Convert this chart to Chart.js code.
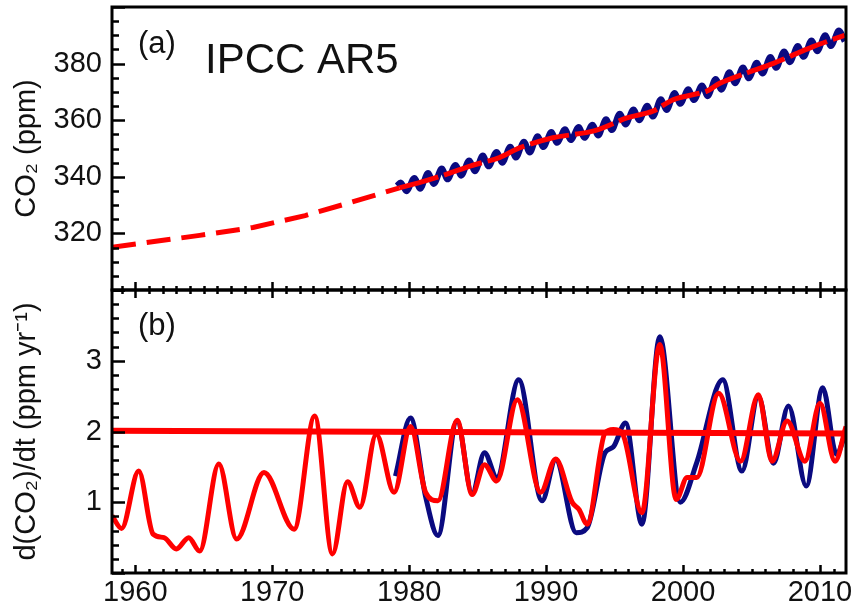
<!DOCTYPE html>
<html>
<head>
<meta charset="utf-8">
<script src="https://cdn.jsdelivr.net/npm/chart.js@4"></script>
<style>
  body { margin: 0; background: #fff; }
  #wrap { position: relative; width: 854px; height: 608px; }
  canvas { position: absolute; left: 0; }
  #topChart { top: 0; }
  #botChart { top: 280px; }
</style>
</head>
<body>
<div id="wrap">
  <canvas id="topChart" width="854" height="292"></canvas>
  <canvas id="botChart" width="854" height="328"></canvas>
</div>
<script>
// ---- dados ----
// painel (a): CO2 (ppm)
const co2DashYears  = [1958.3, 1964.7, 1968.6, 1972.4, 1975.7, 1979.3];
const co2DashValues = [315.1, 319.3, 322.1, 326.3, 330.9, 336.1];

const co2TrendYears  = [1979.3, 1980.8, 1982.8, 1984.5, 1986.6, 1988.1, 1990.5, 1993.5, 1995.9,
                        1997.8, 1999.3, 2001.7, 2002.7, 2004.6, 2006.6, 2009.5, 2011.8];
const co2TrendValues = [336.1, 338.0, 341.0, 343.9, 346.8, 350.3, 353.8, 356.2, 360.8,
                        363.2, 367.3, 370.2, 373.1, 376.6, 380.1, 386.0, 390.0];

// Mauna Loa mensal: máximo (maio) e mínimo (outubro) de cada ano
const mloYears = [1979,1980,1981,1982,1983,1984,1985,1986,1987,1988,1989,1990,1991,1992,1993,1994,
                  1995,1996,1997,1998,1999,2000,2001,2002,2003,2004,2005,2006,2007,2008,2009,2010,2011];
const mloMay = [338.0,339.6,341.3,342.9,344.2,345.8,347.5,348.8,350.6,352.4,354.3,355.8,356.8,357.6,358.4,360.3,
                362.3,363.8,365.1,367.4,369.6,370.9,372.3,374.6,376.9,378.6,380.3,382.3,384.3,386.2,388.2,390.0,391.7];
const mloOct = [334.9,335.8,337.5,339.1,340.4,342.0,343.7,345.0,346.8,348.6,350.5,352.0,353.0,353.8,354.6,356.5,
                358.5,360.0,361.3,363.6,365.8,367.1,368.5,370.8,373.1,374.8,376.5,378.5,380.5,382.4,384.4,386.2,387.9];
const mloStart = { x: 1979.1, y: 336.8 };

// painel (b): d(CO2)/dt (ppm/ano)
const rateRedYears  = [1958.3,1959.0,1960.25,1961.3,1962.1,1963.0,1963.9,1964.7,1966.1,1967.4,1969.4,1971.6,
                       1973.1,1974.4,1975.5,1976.4,1977.6,1978.9,1980.1,1981.2,1982.1,1983.5,1984.6,1985.5,
                       1986.4,1987.9,1989.6,1990.7,1991.9,1992.4,1993.0,1994.3,1994.9,1995.6,1997.0,1998.3,
                       1999.5,2000.3,2001.0,2002.6,2004.2,2005.5,2006.5,2007.6,2008.9,2010.0,2011.1,2011.9];
const rateRedValues = [0.81,0.63,1.44,0.55,0.50,0.34,0.50,0.31,1.54,0.48,1.42,0.62,
                       2.22,0.27,1.29,0.93,1.96,1.14,2.07,1.14,1.02,2.16,1.11,1.53,
                       1.30,2.45,1.14,1.61,1.00,0.90,0.69,1.98,2.03,1.96,0.85,3.23,
                       1.04,1.35,1.35,2.54,1.58,2.52,1.58,2.15,1.58,2.40,1.58,2.07];

const rateBlueYears  = [1979.0,1980.1,1981.2,1982.1,1983.5,1984.6,1985.5,1986.4,1988.0,1989.7,1990.7,1992.2,
                        1993.0,1994.3,1994.9,1995.8,1997.0,1998.3,1999.8,2001.0,2002.9,2004.3,2005.5,2006.6,
                        2007.7,2009.0,2010.2,2011.2,2011.9];
const rateBlueValues = [1.37,2.19,1.08,0.53,2.15,1.13,1.70,1.35,2.73,1.02,1.60,0.57,
                        0.64,1.70,1.78,2.12,0.69,3.34,1.00,1.56,2.73,1.44,2.50,1.55,
                        2.36,1.23,2.62,1.68,2.00];

const meanRateYears  = [1958.3, 2011.9];
const meanRateValues = [2.01, 1.97];

const xTicks  = [1960, 1970, 1980, 1990, 2000, 2010];
const yTicksA = [320, 340, 360, 380];
const yTicksB = [1, 2, 3];

// ---- helpers ----
const pts = (xs, ys) => xs.map((x, i) => ({ x, y: ys[i] }));
const mloPoints = [mloStart];
mloYears.forEach((yr, i) => {
  mloPoints.push({ x: yr + 0.38, y: mloMay[i] });
  mloPoints.push({ x: yr + 0.80, y: mloOct[i] });
});

const FONT = "'Liberation Sans', Arial, sans-serif";
const RED = '#ff0000';
const NAVY = '#0a0a80';
const INK = '#111';
const X_MIN = 1958.3, X_MAX = 2011.9;

// moldura + ticks para dentro
const framePlugin = {
  id: 'frame',
  afterDraw(chart, args, o) {
    const { ctx, chartArea: a, scales } = chart;
    ctx.save();
    ctx.strokeStyle = '#000';
    ctx.lineWidth = 3;
    ctx.strokeRect(a.left, a.top, a.right - a.left, a.bottom - a.top);

    ctx.lineWidth = 2.5;
    ctx.beginPath();
    const y = scales.y;
    for (let v = o.yMin; v <= o.yMax + 1e-9; v += o.yMinor) {
      const p = Math.round(y.getPixelForValue(v)) + 0.5;
      const major = Math.abs(v / o.yMajor - Math.round(v / o.yMajor)) < 1e-6;
      ctx.moveTo(a.left, p);
      ctx.lineTo(a.left + (major ? 13 : 7), p);
    }
    const x = scales.x;
    for (let yr = 1959; yr <= 2011; yr++) {
      const p = Math.round(x.getPixelForValue(yr)) + 0.5;
      const len = yr % 10 === 0 ? 8 : 4;
      if (o.bottomTicks) { ctx.moveTo(p, a.bottom); ctx.lineTo(p, a.bottom - len); }
      if (o.topTicks) { ctx.moveTo(p, a.top); ctx.lineTo(p, a.top + len); }
    }
    ctx.stroke();

    ctx.fillStyle = INK;
    ctx.textBaseline = 'alphabetic';
    (o.texts || []).forEach(t => {
      ctx.font = t.size + 'px ' + FONT;
      ctx.fillText(t.text, a.left + t.dx, a.top + t.dy);
    });
    ctx.restore();
  }
};

function yAxis(min, max, ticks, title) {
  return {
    min, max,
    afterBuildTicks: s => { s.ticks = ticks.map(v => ({ value: v })); },
    afterFit: s => { s.width = 112; s.paddingTop = 0; s.paddingBottom = 0; },
    grid: { display: false, drawTicks: false },
    border: { display: false },
    ticks: { color: INK, padding: 10, font: { family: FONT, size: 29 } },
    title: { display: true, text: title, color: INK, padding: { top: 10, bottom: 0 },
             font: { family: FONT, size: 29 } }
  };
}

// ---- painel (a) ----
new Chart(document.getElementById('topChart'), {
  type: 'line',
  data: {
    datasets: [
      { data: pts(co2TrendYears, co2TrendValues), borderColor: RED, borderWidth: 5,
        borderDash: [40, 6], tension: 0.3 },
      { data: pts(co2DashYears, co2DashValues), borderColor: RED, borderWidth: 5,
        borderDash: [24, 11] },
      { data: mloPoints, borderColor: NAVY, borderWidth: 6, cubicInterpolationMode: 'monotone' }
    ]
  },
  options: {
    responsive: false,
    animation: false,
    layout: { padding: { top: 7, right: 8, bottom: 2, left: 0 } },
    elements: { point: { radius: 0 }, line: { borderCapStyle: 'butt' } },
    plugins: {
      legend: { display: false }, tooltip: { enabled: false },
      frame: { yMin: 300, yMax: 400, yMinor: 5, yMajor: 20, bottomTicks: true, topTicks: false,
               texts: [{ text: '(a)', size: 31, dx: 26, dy: 46 },
                       { text: 'IPCC AR5', size: 42, dx: 93, dy: 66 }] }
    },
    scales: {
      x: { type: 'linear', min: X_MIN, max: X_MAX, display: false },
      y: yAxis(300, 400, yTicksA, 'CO\u2082 (ppm)')
    }
  },
  plugins: [framePlugin]
});

// ---- painel (b) ----
new Chart(document.getElementById('botChart'), {
  type: 'line',
  data: {
    datasets: [
      { data: pts(meanRateYears, meanRateValues), borderColor: RED, borderWidth: 6 },
      { data: pts(rateRedYears, rateRedValues), borderColor: RED, borderWidth: 5,
        cubicInterpolationMode: 'monotone' },
      { data: pts(rateBlueYears, rateBlueValues), borderColor: NAVY, borderWidth: 5,
        cubicInterpolationMode: 'monotone' }
    ]
  },
  options: {
    responsive: false,
    animation: false,
    layout: { padding: { top: 10, right: 8, bottom: 0, left: 0 } },
    elements: { point: { radius: 0 } },
    plugins: {
      legend: { display: false }, tooltip: { enabled: false },
      frame: { yMin: 0, yMax: 4, yMinor: 0.2, yMajor: 1, bottomTicks: true, topTicks: true,
               texts: [{ text: '(b)', size: 31, dx: 26, dy: 45 }] }
    },
    scales: {
      x: {
        type: 'linear', min: X_MIN, max: X_MAX,
        afterBuildTicks: s => { s.ticks = xTicks.map(v => ({ value: v })); },
        afterFit: s => { s.height = 35; s.paddingLeft = 0; s.paddingRight = 0; },
        grid: { display: false, drawTicks: false },
        border: { display: false },
        ticks: { color: INK, padding: 3, maxRotation: 0, font: { family: FONT, size: 29 },
                 callback: v => String(v) }
      },
      y: yAxis(0, 4, yTicksB, 'd(CO\u2082)/dt (ppm yr\u207B\u00B9)')
    }
  },
  plugins: [framePlugin]
});
</script>
</body>
</html>
